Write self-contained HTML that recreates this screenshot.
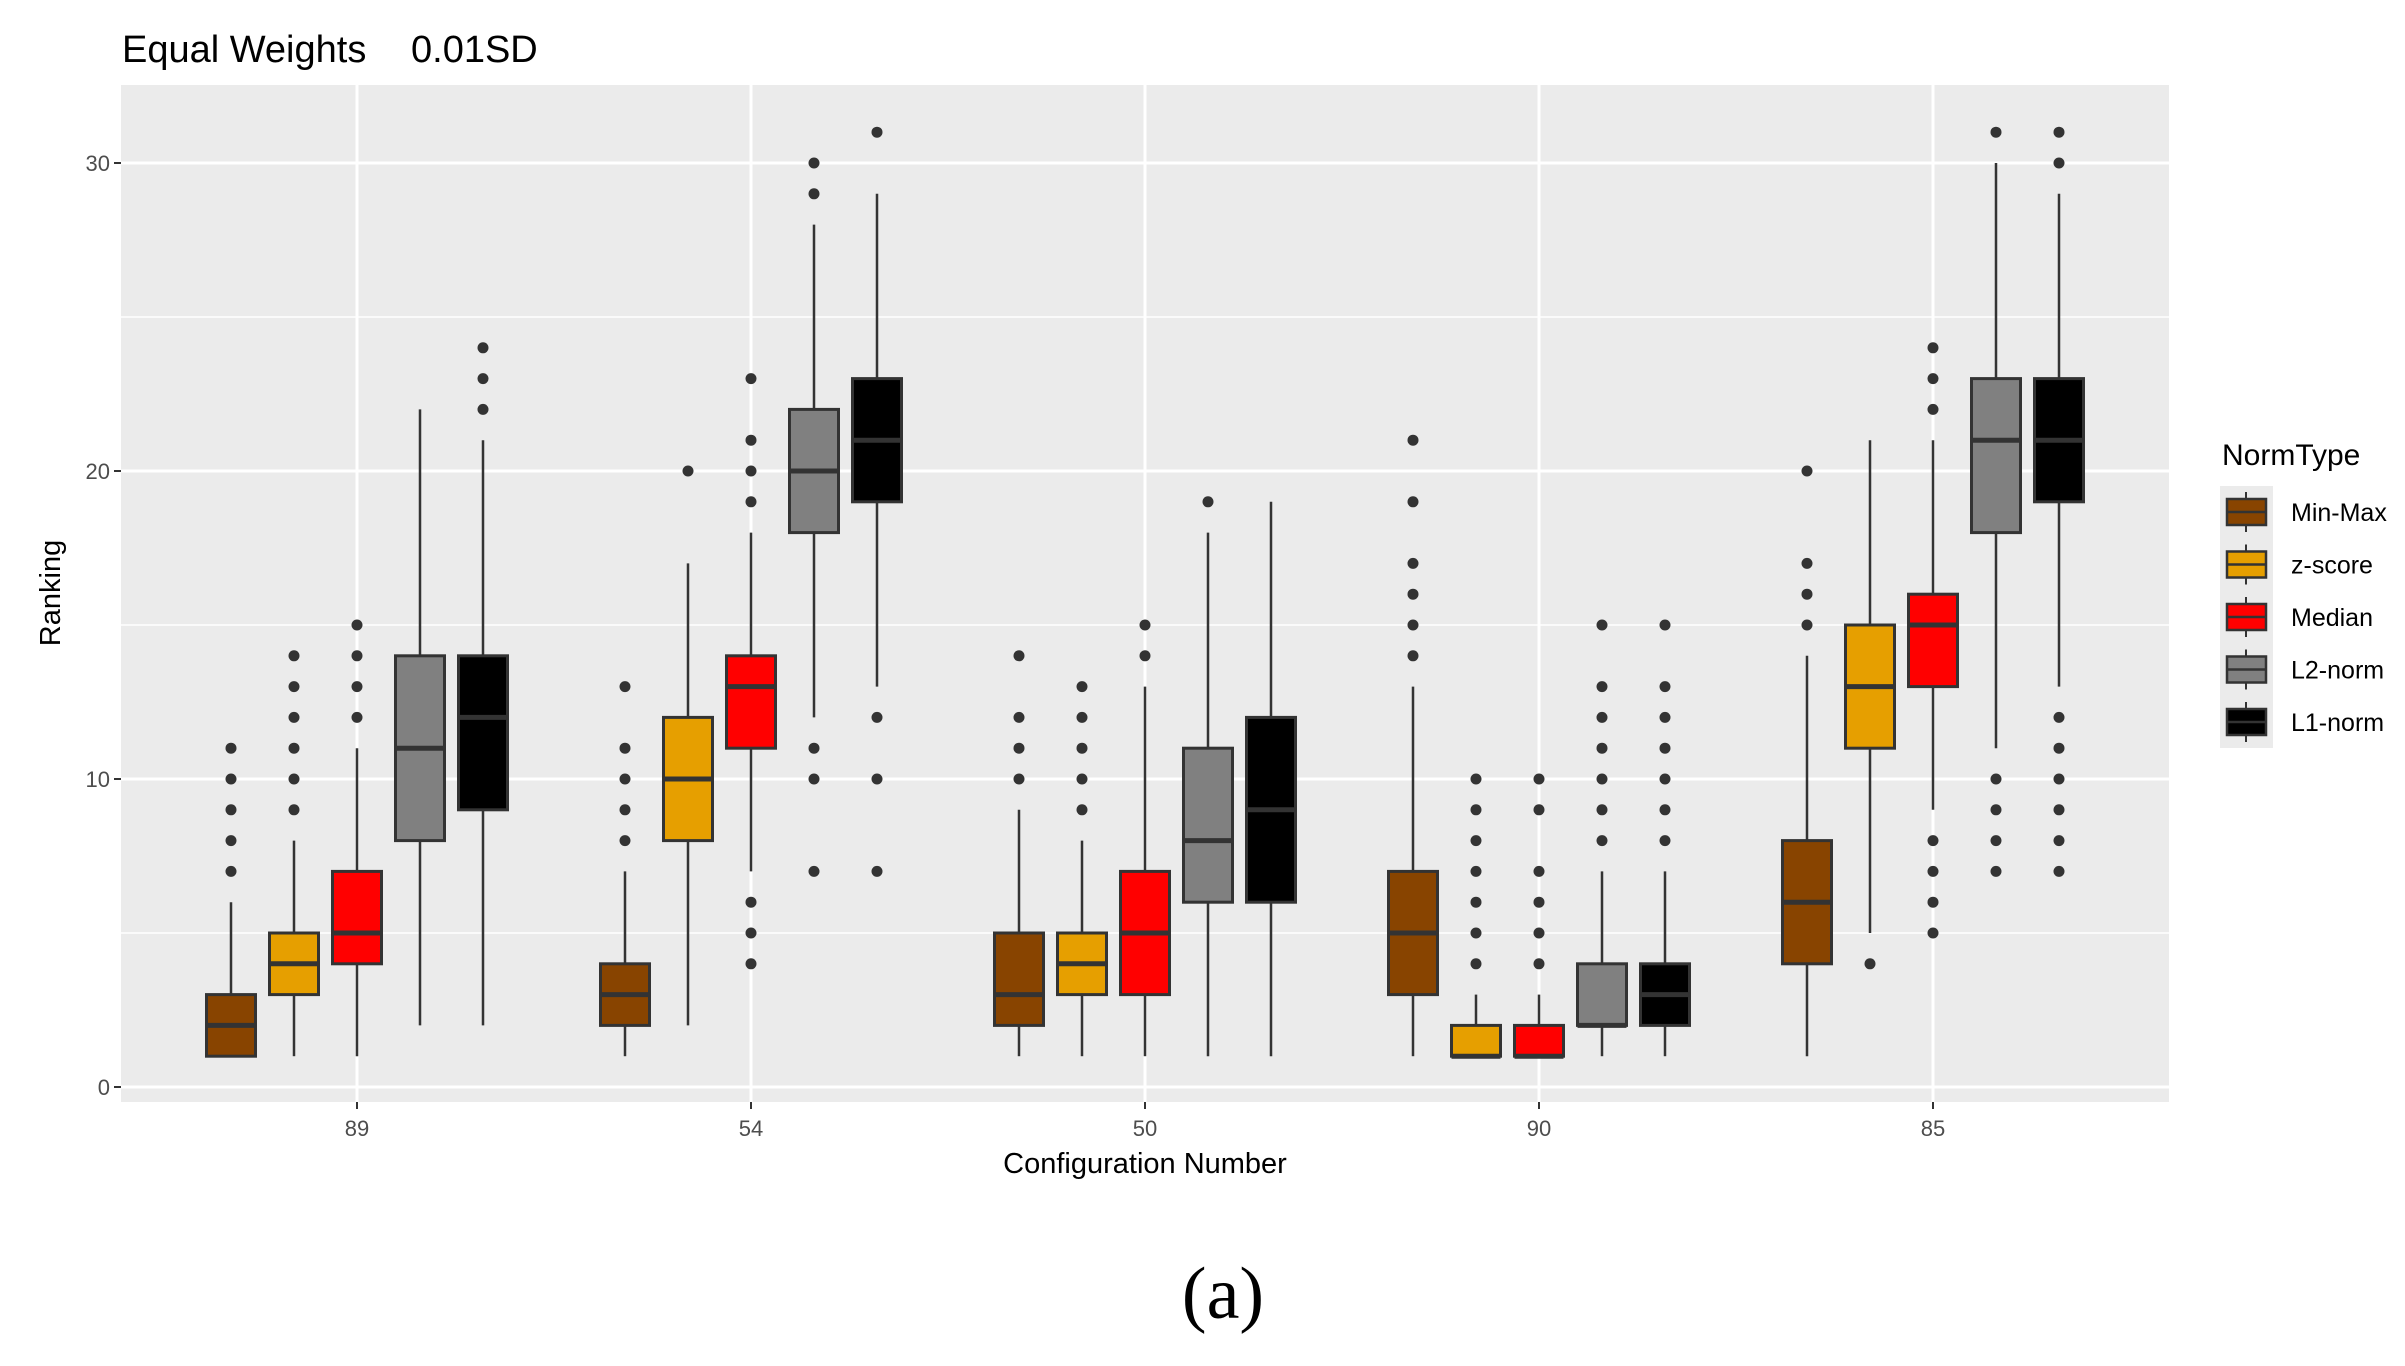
<!DOCTYPE html>
<html><head><meta charset="utf-8"><style>
html,body{margin:0;padding:0;background:#fff;}
svg{display:block;font-family:"Liberation Sans",sans-serif;}
</style></head><body>
<svg id="chart" width="2405" height="1366" viewBox="0 0 2405 1366" xmlns="http://www.w3.org/2000/svg">
<rect width="2405" height="1366" fill="#fff"/>
<text x="122" y="62" font-size="38" fill="#000">Equal Weights</text>
<text x="411" y="62" font-size="38" fill="#000">0.01SD</text>
<rect x="121" y="85" width="2048" height="1017" fill="#ebebeb"/>
<g id="grid"></g>
<g id="marks"></g>
<g id="axes"></g>
<text x="1145" y="1173" font-size="29" text-anchor="middle" fill="#000">Configuration Number</text>
<text x="60" y="593" font-size="29" text-anchor="middle" fill="#000" transform="rotate(-90 60 593)">Ranking</text>
<g id="legend"></g>
<text x="1223" y="1318" font-size="74" text-anchor="middle" font-family="'Liberation Serif',serif" fill="#000">(a)</text>
</svg>
<script>
const categories = ["89","54","50","90","85"];
const normTypes = ["Min-Max","z-score","Median","L2-norm","L1-norm"];
const colors = ["#884400","#E69F00","#FF0000","#808080","#000000"];
const yTicks = [0,10,20,30];
// [whiskerLow, q1, median, q3, whiskerHigh] per category, per norm type
const minMaxStats = [[1,1,2,3,6],[1,2,3,4,7],[1,2,3,5,9],[1,3,5,7,13],[1,4,6,8,14]];
const zScoreStats = [[1,3,4,5,8],[2,8,10,12,17],[1,3,4,5,8],[1,1,1,2,3],[5,11,13,15,21]];
const medianStats = [[1,4,5,7,11],[7,11,13,14,18],[1,3,5,7,13],[1,1,1,2,3],[9,13,15,16,21]];
const l2Stats = [[2,8,11,14,22],[12,18,20,22,28],[1,6,8,11,18],[1,2,2,4,7],[11,18,21,23,30]];
const l1Stats = [[2,9,12,14,21],[13,19,21,23,29],[1,6,9,12,19],[1,2,3,4,7],[13,19,21,23,29]];
const minMaxOut = [[7,8,9,10,11],[8,9,10,11,13],[10,11,12,14],[14,15,16,17,19,21],[15,16,17,20]];
const zScoreOut = [[9,10,11,12,13,14],[20],[9,10,11,12,13],[4,5,6,7,8,9,10],[4]];
const medianOut = [[12,13,14,15],[4,5,6,19,20,21,23],[14,15],[4,5,6,7,9,10],[5,6,7,8,22,23,24]];
const l2Out = [[],[7,10,11,29,30],[19],[8,9,10,11,12,13,15],[7,8,9,10,31]];
const l1Out = [[22,23,24],[7,10,12,31],[],[8,9,10,11,12,13,15],[7,8,9,10,11,12,30,31]];

const allStats=[minMaxStats,zScoreStats,medianStats,l2Stats,l1Stats];
const allOut=[minMaxOut,zScoreOut,medianOut,l2Out,l1Out];
const NS="http://www.w3.org/2000/svg";
const y0=1087, perUnit=30.8;
const yScale=v=>y0-v*perUnit;
const xScale=i=>357+i*394;
const dodge=63, bw=49;
function mk(tag,attrs,parent){const e=document.createElementNS(NS,tag);for(const k in attrs)e.setAttribute(k,attrs[k]);parent.appendChild(e);return e;}
const grid=document.getElementById('grid'), marks=document.getElementById('marks'), axes=document.getElementById('axes'), legend=document.getElementById('legend');
[5,15,25].forEach(v=>{const l=mk('line',{x1:121,x2:2169,y1:yScale(v),y2:yScale(v),stroke:'#fff','stroke-width':1.5},grid);

});
yTicks.forEach(v=>{const l=mk('line',{x1:121,x2:2169,y1:yScale(v),y2:yScale(v),stroke:'#fff','stroke-width':3},grid);


const t=mk('line',{x1:114,x2:121,y1:yScale(v),y2:yScale(v),stroke:'#333','stroke-width':2},axes);


const tx=mk('text',{x:110,y:yScale(v)+8,'font-size':22,'text-anchor':'end',fill:'#4d4d4d'},axes);tx.textContent=v;

});
categories.forEach((c,i)=>{const x=xScale(i);
const l=mk('line',{x1:x,x2:x,y1:85,y2:1102,stroke:'#fff','stroke-width':3},grid);


const t=mk('line',{x1:x,x2:x,y1:1102,y2:1109,stroke:'#333','stroke-width':2},axes);


const tx=mk('text',{x:x,y:1136,'font-size':22,'text-anchor':'middle',fill:'#4d4d4d'},axes);tx.textContent=c;


for(let k=0;k<5;k++){const s=allStats[k][i];const cx=x+(k-2)*dodge;
const g=mk('g',{},marks);


mk('line',{x1:cx,x2:cx,y1:yScale(s[0]),y2:yScale(s[1]),stroke:'#333','stroke-width':2.5},g);
mk('line',{x1:cx,x2:cx,y1:yScale(s[3]),y2:yScale(s[4]),stroke:'#333','stroke-width':2.5},g);
mk('rect',{x:cx-bw/2,y:yScale(s[3]),width:bw,height:Math.max(1,yScale(s[1])-yScale(s[3])),fill:colors[k],stroke:'#333','stroke-width':3},g);
mk('line',{x1:cx-bw/2,x2:cx+bw/2,y1:yScale(s[2]),y2:yScale(s[2]),stroke:'#333','stroke-width':5},g);
allOut[k][i].forEach(o=>{const p=mk('circle',{cx:cx,cy:yScale(o),r:5.5,fill:'#333'},g);

});}
});
const lt=mk('text',{x:2222,y:465,'font-size':30,fill:'#000'},legend);lt.textContent='NormType';


mk('rect',{x:2220,y:486,width:53,height:262,fill:'#ebebeb'},legend);
normTypes.forEach((n,k)=>{const cy=512+k*52.5;
const g=mk('g',{},legend);


mk('line',{x1:2246,x2:2246,y1:cy-20,y2:cy+20,stroke:'#333','stroke-width':2},g);
mk('rect',{x:2227,y:cy-13,width:39,height:26,fill:colors[k],stroke:'#333','stroke-width':2.5},g);
mk('line',{x1:2227,x2:2266,y1:cy,y2:cy,stroke:'#333','stroke-width':2.5},g);
const t=mk('text',{x:2291,y:cy+9,'font-size':25,fill:'#000'},g);t.textContent=n;});
</script>
</body></html>
